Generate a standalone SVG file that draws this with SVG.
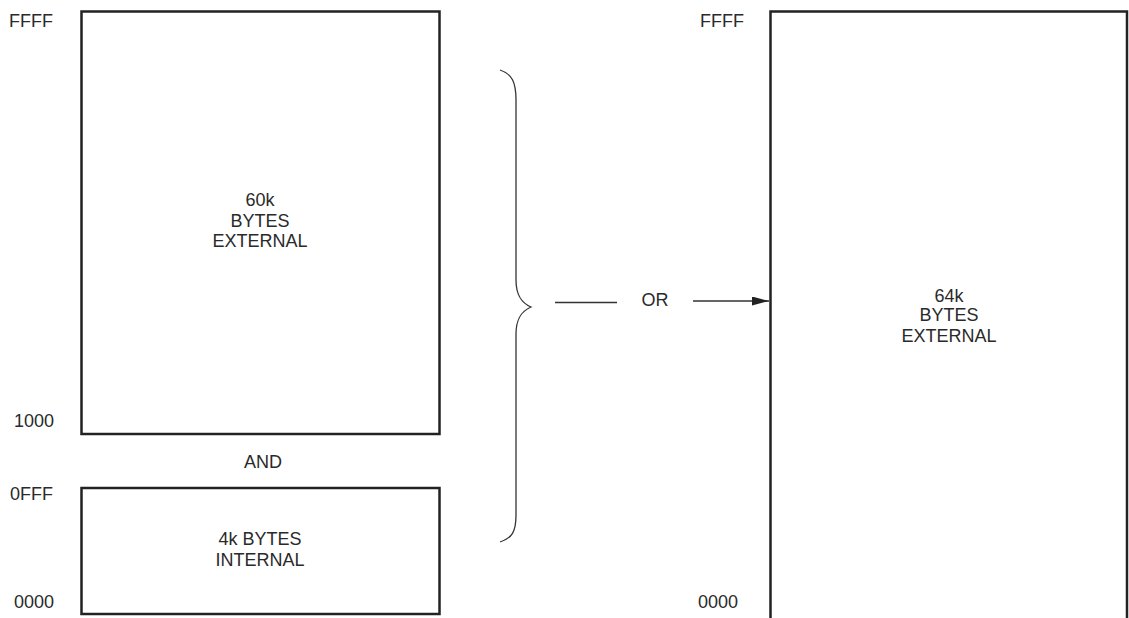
<svg xmlns="http://www.w3.org/2000/svg" width="1129" height="618" viewBox="0 0 1129 618">
<defs>
<style>
text{font-family:"Liberation Sans",Arial,sans-serif;font-size:18px;fill:#2a2a2a}
.c{text-anchor:middle}
.r{text-anchor:end}
.box{fill:#fff;stroke:#222;stroke-width:2.5}
.ln{fill:none;stroke:#333;stroke-width:1.3}
</style>
<marker id="ah" markerWidth="17" markerHeight="9" refX="17" refY="4.5" orient="auto" markerUnits="userSpaceOnUse">
<path d="M0,0 L17,4.5 L0,9 z" fill="#222"/>
</marker>
</defs>
<rect width="1129" height="618" fill="#fff"/>
<g id="ext60k">
<rect class="box" x="81.5" y="11.5" width="358" height="422.5"/>
<text class="c" x="260" y="206">60k</text>
<text class="c" x="260" y="227">BYTES</text>
<text class="c" x="260" y="247">EXTERNAL</text>
<text class="r" x="53" y="27">FFFF</text>
<text class="r" x="54" y="427">1000</text>
</g>
<g id="and"><text class="c" x="263" y="468">AND</text></g>
<g id="int4k">
<rect class="box" x="81.5" y="488" width="358" height="126"/>
<text class="c" x="260" y="545">4k BYTES</text>
<text class="c" x="260" y="566">INTERNAL</text>
<text class="r" x="53" y="500">0FFF</text>
<text class="r" x="54" y="608">0000</text>
</g>
<g id="ext64k">
<path class="box" d="M770.5,625 V11.5 H1127 V625"/>
<text class="c" x="949" y="302">64k</text>
<text class="c" x="949" y="321">BYTES</text>
<text class="c" x="949" y="342">EXTERNAL</text>
<text class="r" x="744" y="27">FFFF</text>
<text class="r" x="738" y="608">0000</text>
</g>
<g id="connectors">
<path class="ln" d="M500,70 C512,74 516,82 516,100 V280 C516,296 522,303 531,307 C522,311 516,318 516,334 V515 C516,532 512,538 500,542"/>
<line class="ln" x1="555" y1="302.5" x2="617" y2="302.5"/>
<line class="ln" x1="693" y1="301" x2="769" y2="301" marker-end="url(#ah)"/>
<text class="c" x="655" y="306">OR</text>
</g>
</svg>
